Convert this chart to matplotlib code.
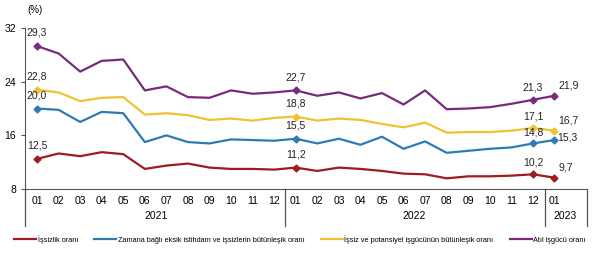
import matplotlib.pyplot as plt
import numpy as np

plt.rcParams['font.family'] = ['Liberation Sans', 'DejaVu Sans']

# aylar: 2021-01 .. 2023-01
months = ['01', '02', '03', '04', '05', '06', '07', '08', '09', '10', '11', '12'] * 2 + ['01']
years = ['2021', '2022', '2023']

issizlik = [12.5, 13.3, 12.9, 13.5, 13.2, 11.0, 11.5, 11.8, 11.2, 11.0, 11.0, 10.9,
            11.2, 10.7, 11.2, 11.0, 10.7, 10.3, 10.2, 9.6, 9.9, 9.9, 10.0, 10.2, 9.7]
zamana_bagli = [20.0, 19.8, 18.0, 19.5, 19.3, 15.0, 16.0, 15.0, 14.8, 15.4, 15.3, 15.2,
                15.5, 14.8, 15.5, 14.6, 15.8, 14.0, 15.1, 13.4, 13.7, 14.0, 14.2, 14.8, 15.3]
potansiyel = [22.8, 22.4, 21.1, 21.6, 21.7, 19.1, 19.3, 19.0, 18.3, 18.5, 18.2, 18.6,
              18.8, 18.2, 18.5, 18.3, 17.7, 17.2, 17.9, 16.4, 16.5, 16.5, 16.7, 17.1, 16.7]
atil = [29.3, 28.2, 25.5, 27.1, 27.3, 22.7, 23.3, 21.7, 21.6, 22.7, 22.2, 22.4,
        22.7, 21.9, 22.4, 21.5, 22.3, 20.6, 22.7, 19.9, 20.0, 20.2, 20.7, 21.3, 21.9]

labels = ['İşsizlik oranı',
          'Zamana bağlı eksik istihdam ve işsizlerin bütünleşik oranı',
          'İşsiz ve potansiyel işgücünün bütünleşik oranı',
          'Atıl işgücü oranı']
colors = ['#9e1b20', '#2e7bb4', '#f0c233', '#7a2a7c']
series = [issizlik, zamana_bagli, potansiyel, atil]

# etiketli noktalar
marked = [0, 12, 23, 24]

fig = plt.figure(figsize=(6, 2.59), dpi=100)
ax = fig.add_axes([0.042, 0.270, 0.936, 0.622])

x = np.arange(len(months))
for vals, c, lab in zip(series, colors, labels):
    ax.plot(x, vals, color=c, lw=1.6, label=lab)
    ax.plot(x[marked], np.array(vals)[marked], 'D', color=c, ms=3.5, lw=0)

# değer etiketleri
def lbl(i, v, dx=0, dy=7, ha='center'):
    ax.annotate(f'{v:.1f}'.replace('.', ','), (i, v), xytext=(dx, dy),
                textcoords='offset points', ha=ha, va='bottom', fontsize=7.5, color='#222222')

for vals in series:
    lbl(0, vals[0], dx=0, dy=6)
    lbl(12, vals[12], dx=0, dy=6)
for vals, name in zip(series, ['r', 'b', 'y', 'p']):
    if name == 'b':
        lbl(23, vals[23], dx=0, dy=4)
        lbl(24, vals[24], dx=2, dy=-2, ha='left')
    else:
        lbl(23, vals[23], dx=0, dy=5)
        lbl(24, vals[24], dx=3, dy=4, ha='left')

ax.set_xlim(-0.55, 25.5)
ax.set_ylim(8, 32)
ax.set_yticks([8, 16, 24, 32])
ax.set_xticks(x)
ax.set_xticklabels(months, fontsize=7.5)
ax.tick_params(axis='x', length=0, pad=5)
ax.tick_params(axis='y', labelsize=7.5, length=3, color='#555555')
for s in ['top', 'right']:
    ax.spines[s].set_visible(False)
ax.spines['left'].set_color('#555555')
ax.spines['bottom'].set_color('#555555')

# yıl ayraçları
trans = ax.get_xaxis_transform()
for xs in [-0.55, 11.5, 23.54, 25.5]:
    ax.plot([xs, xs], [0, -0.23], transform=trans, color='#555555', lw=0.9, clip_on=False)
for xc, yr in zip([5.5, 17.5, 24.5], years):
    ax.text(xc, -0.17, yr, transform=trans, ha='center', va='center', fontsize=7.5)

fig.text(0.045, 0.96, '(%)', fontsize=7, ha='left', va='center')

fig.legend(loc='center', bbox_to_anchor=(0.5, 0.075), ncol=4, frameon=False,
           fontsize=5.3, handlelength=3.0, handletextpad=0.2, columnspacing=2.2)

fig.savefig('out.png', dpi=100)
